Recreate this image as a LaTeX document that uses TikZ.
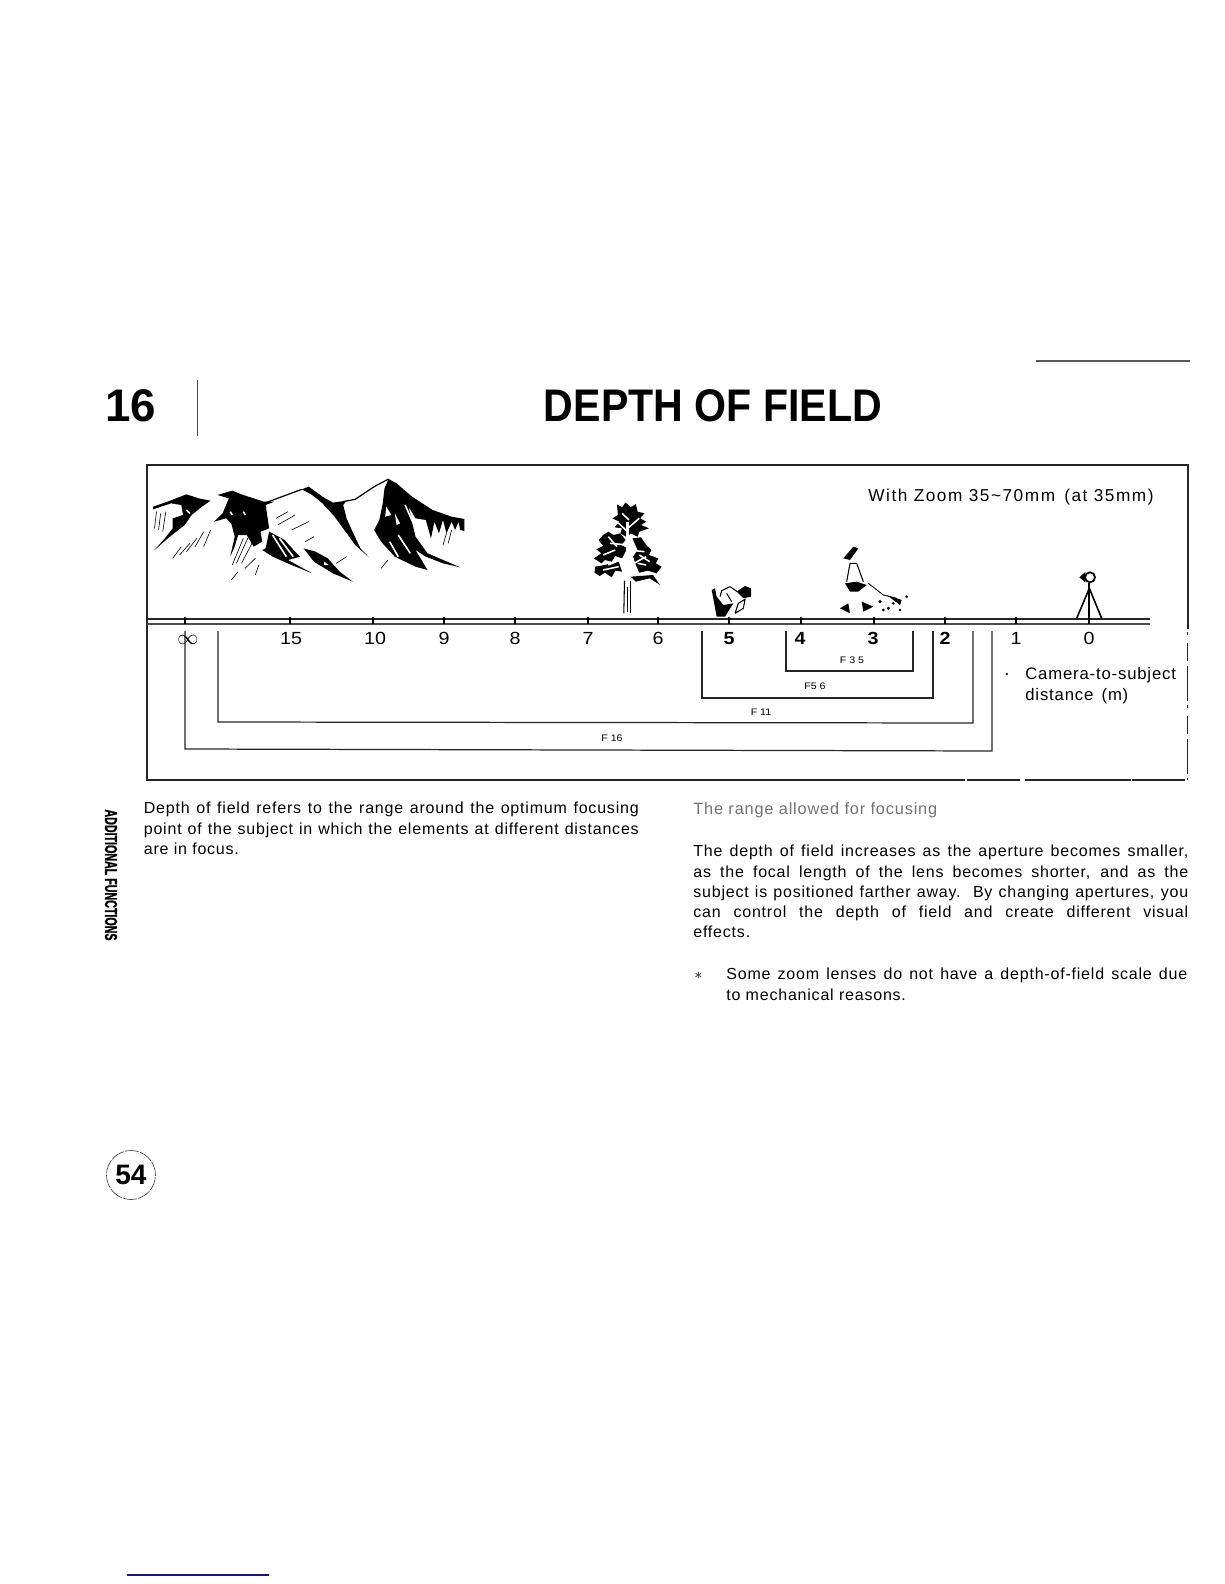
\documentclass[tikz,border=0pt]{standalone}
\usepackage{fontspec}
\setmainfont{Liberation Sans}
\newfontfamily\headfont[FakeStretch=0.9]{Liberation Sans}
\newfontfamily\sidefont[FakeStretch=0.62,FakeBold=1.2]{Liberation Sans}
\newfontfamily\trackfont[LetterSpace=5]{Liberation Sans}
\newfontfamily\widefont[LetterSpace=9]{Liberation Sans}
\newfontfamily\scalefont[FakeStretch=1.12]{Liberation Sans}
\definecolor{rulenavy}{RGB}{20,20,130}
\tikzset{
  headtext/.style={inner sep=0pt,font=\headfont\bfseries\fontsize{26}{30}\selectfont},
  bodytext/.style={inner sep=0pt,anchor=north west,text width=#1,align=justify,
    font=\trackfont\fontsize{9.1}{11.45}\selectfont},
  looktext/.style={inner sep=0pt,anchor=west,font=\trackfont\fontsize{9.3}{11.45}\selectfont},
  scalenum/.style={inner sep=0pt,anchor=base,font=\scalefont\fontsize{10}{11}\selectfont},
  stoplabel/.style={inner sep=0pt,font=\scalefont\fontsize{5.4}{6}\selectfont},
  frameline/.style={line width=0.75pt,black!85},
  groundline/.style={line width=0.9pt,black!85},
  stopline/.style={line width=0.7pt,black!85},
  tickline/.style={line width=1pt,black},
  hatchline/.style={line width=0.35pt,black},
  gapline/.style={line width=0.9pt,white},
}
\begin{document}
\begin{tikzpicture}[x=0.02cm,y=-0.02cm]
\useasboundingbox (0,0) rectangle (1224,1584);
%---------------- page head
\node[inner sep=0pt,anchor=west,font=\bfseries\fontsize{26}{30}\selectfont] (chapnum) at (105,406) {16};
\node[headtext] (pagetitle) at (713,406) {DEPTH OF FIELD};
\draw[line width=0.3pt,black!70] (197,380) -- (197,436);
\draw[line width=0.6pt,black!65] (1036,361) -- (1190,361);
%---------------- frame
\draw[frameline] (147,629) -- (147,465) -- (1188,465) -- (1188,629);
\draw[frameline] (147,629) -- (147,780) -- (860,780);
\draw[line width=0.6pt,black!85,dash pattern=on 60pt off 1pt on 30pt off 3pt] (860,780) -- (1187,780);
\draw[line width=0.5pt,black!85,dash pattern=on 1.5pt off 5pt on 10pt off 3pt on 20pt off 2pt] (1187,632) -- (1187,780);
%---------------- ground
\draw[groundline] (147,619) -- (1150,619);
\draw[line width=1.3pt,black!70] (147,624) -- (1150,624);
\draw[tickline] (185,617) -- (185,624);
\draw[tickline] (290,617) -- (290,624);
\draw[tickline] (373,617) -- (373,624);
\draw[tickline] (444,617) -- (444,624);
\draw[tickline] (515,617) -- (515,624);
\draw[tickline] (588,617) -- (588,624);
\draw[tickline] (658,617) -- (658,624);
\draw[tickline] (729,617) -- (729,624);
\draw[tickline] (801,617) -- (801,624);
\draw[tickline] (874,617) -- (874,624);
\draw[tickline] (945,617) -- (945,624);
\draw[tickline] (1016,617) -- (1016,624);
\draw[tickline] (1089,617) -- (1089,624);
%---------------- scale
\node[scalenum] (distinf) at (188,644) {\fontsize{11.5}{11}\selectfont$\infty$};
\node[scalenum] (distfifteen) at (291,644) {15};
\node[scalenum] (distten) at (375,644) {10};
\node[scalenum] (distnine) at (444,644) {9};
\node[scalenum] (disteight) at (515,644) {8};
\node[scalenum] (distseven) at (588,644) {7};
\node[scalenum] (distsix) at (658,644) {6};
\node[scalenum] (distfive) at (729,644) {\bfseries 5};
\node[scalenum] (distfour) at (800,644) {\bfseries 4};
\node[scalenum] (distthree) at (873,644) {\bfseries 3};
\node[scalenum] (disttwo) at (945,644) {\bfseries 2};
\node[scalenum] (distone) at (1016,644) {1};
\node[scalenum] (distzero) at (1089,644) {0};
%---------------- aperture brackets
\draw[stopline] (185,631) -- (185,749) -- (992,751) -- (992,631);
\draw[stopline] (218,631) -- (218,722) -- (973,723) -- (973,631);
\draw[stopline] (702,631) -- (702,698) -- (933,698) -- (933,631);
\draw[stopline] (786,631) -- (786,671) -- (913,671) -- (913,631);
\node[stoplabel] (stopsixteen) at (612,738) {F 16};
\node[stoplabel] (stopeleven) at (761,712) {F 11};
\node[stoplabel] (stopfive) at (815,686) {F5 6};
\node[stoplabel] (stopthree) at (852,660) {F 3 5};
%---------------- captions in the frame
\node[inner sep=0pt,anchor=west,font=\widefont\fontsize{9.8}{11.45}\selectfont] (zoomnote) at (868,497) {With Zoom 35\textasciitilde 70mm\, (at 35mm)};
\node[inner sep=0pt,font=\fontsize{5}{6}\selectfont] (notemark) at (1007,675) {\textbullet};
\node[looktext] (camnote) at (1025,675) {\fontsize{9.5}{11}\selectfont Camera-to-subject};
\node[looktext] (distnote) at (1025,696) {\fontsize{9.5}{11}\selectfont distance\, (m)};
%---------------- mountains
\begin{scope}[shift={(140,450)},xscale=1/2.904,yscale=1/3]
\fill (38,170) -- (80,155) -- (135,133) -- (170,145) -- (205,152) -- (180,170) -- (150,195) -- (130,225) -- (105,245) -- (75,270) -- (40,302) -- (70,268) -- (95,235) -- (95,205) -- (125,195) -- (120,165) -- (90,160) -- (38,178) -- cycle;
\fill (225,135) -- (268,122) -- (300,135) -- (360,155) -- (390,155) -- (365,165) -- (370,200) -- (375,235) -- (350,245) -- (355,275) -- (330,290) -- (310,255) -- (285,255) -- (275,290) -- (262,320) -- (275,260) -- (265,220) -- (250,205) -- (215,215) -- (240,190) -- (258,145) -- cycle;
\fill (470,118) -- (490,110) -- (530,140) -- (560,158) -- (600,152) -- (590,165) -- (600,205) -- (615,240) -- (640,295) -- (665,322) -- (625,285) -- (590,235) -- (565,200) -- (530,160) -- (500,135) -- cycle;
\fill (375,245) -- (420,270) -- (455,310) -- (465,320) -- (430,330) -- (500,370) -- (440,345) -- (385,320) -- (355,300) -- (365,295) -- cycle;
\fill (475,295) -- (510,305) -- (545,325) -- (580,365) -- (618,395) -- (560,370) -- (505,335) -- cycle;
\fill (710,115) -- (722,87) -- (745,100) -- (790,140) -- (850,180) -- (905,200) -- (942,207) -- (942,243) -- (930,240) -- (925,215) -- (915,240) -- (905,215) -- (890,250) -- (880,210) -- (868,250) -- (855,215) -- (845,265) -- (830,210) -- (800,205) -- (780,170) -- (790,215) -- (800,260) -- (835,310) -- (930,352) -- (880,340) -- (830,320) -- (800,300) -- (835,360) -- (800,350) -- (740,320) -- (700,275) -- (680,240) -- (695,210) -- (705,160) -- cycle;
%--- holes
\fill[white] (715,170) -- (730,195) -- (712,200) -- cycle;
\fill[white] (740,190) -- (755,220) -- (745,225) -- cycle;
\fill[white] (535,335) -- (548,345) -- (535,345) -- cycle;
\draw[gapline] (725,275) -- (750,320);
\draw[gapline] (750,255) -- (785,310);
\draw[gapline] (770,165) -- (800,235);
\draw[gapline] (385,255) -- (425,320);
\draw[gapline] (405,265) -- (445,320);
\draw[gapline] (262,185) -- (268,195);
\draw[gapline] (300,185) -- (306,195);
\draw[gapline] (135,180) -- (145,190);
%--- thin ridges
\draw[line width=0.7pt] (360,160) -- (470,118);
\draw[line width=0.7pt] (590,155) -- (625,148) -- (680,110) -- (722,87);
%--- hatching
\draw[hatchline] (48,185) -- (42,235);
\draw[hatchline] (60,190) -- (54,240);
\draw[hatchline] (75,185) -- (66,245);
\draw[hatchline] (95,325) -- (120,290);
\draw[hatchline] (115,315) -- (145,280);
\draw[hatchline] (135,305) -- (165,265);
\draw[hatchline] (160,290) -- (185,245);
\draw[hatchline] (185,290) -- (205,240);
\draw[hatchline] (268,345) -- (300,265);
\draw[hatchline] (280,340) -- (315,260);
\draw[hatchline] (295,340) -- (330,270);
\draw[hatchline] (265,390) -- (285,365);
\draw[hatchline] (305,355) -- (335,325);
\draw[hatchline] (335,375) -- (345,345);
\draw[hatchline] (395,205) -- (430,185);
\draw[hatchline] (400,225) -- (450,195);
\draw[hatchline] (440,240) -- (490,215);
\draw[hatchline] (480,275) -- (505,260);
\draw[hatchline] (570,340) -- (600,320);
\draw[hatchline] (700,355) -- (720,330);
\draw[hatchline] (880,285) -- (890,250);
\draw[hatchline] (895,280) -- (905,240);
%---------------- tree
\fill (1385,163) -- (1400,172) -- (1410,157) -- (1425,172) -- (1440,162) -- (1445,185) -- (1465,190) -- (1452,205) -- (1470,215) -- (1455,225) -- (1478,235) -- (1450,245) -- (1445,260) -- (1425,250) -- (1415,262) -- (1395,250) -- (1400,235) -- (1378,232) -- (1392,215) -- (1372,205) -- (1388,195) -- cycle;
\fill (1345,255) -- (1360,245) -- (1375,255) -- (1395,250) -- (1410,270) -- (1398,285) -- (1415,295) -- (1400,325) -- (1380,318) -- (1370,335) -- (1350,330) -- (1340,340) -- (1318,325) -- (1340,310) -- (1325,298) -- (1345,288) -- (1332,270) -- cycle;
\fill (1430,265) -- (1455,262) -- (1470,285) -- (1485,300) -- (1478,315) -- (1505,325) -- (1498,340) -- (1515,350) -- (1500,370) -- (1475,362) -- (1450,368) -- (1440,345) -- (1432,320) -- (1445,300) -- cycle;
\fill (1322,350) -- (1350,345) -- (1390,335) -- (1400,365) -- (1380,362) -- (1370,382) -- (1350,368) -- (1335,378) -- (1320,368) -- cycle;
\fill (1425,380) -- (1490,375) -- (1510,405) -- (1480,385) -- (1440,395) -- cycle;
\draw[gapline,line width=1.6pt] (1416,215) -- (1416,400);
\draw[gapline] (1416,320) -- (1360,345);
\draw[gapline] (1416,285) -- (1365,280);
\draw[gapline] (1416,350) -- (1470,320);
\draw[gapline] (1416,300) -- (1465,305);
\draw[gapline] (1416,245) -- (1385,215);
\draw[gapline] (1416,235) -- (1450,205);
\draw[gapline] (1380,300) -- (1345,315);
\draw[gapline] (1470,345) -- (1445,340);
\draw[gapline] (1400,190) -- (1420,210);
\draw[gapline] (1360,260) -- (1385,290);
\draw[gapline] (1480,335) -- (1450,315);
\draw[gapline] (1345,360) -- (1390,350);
\draw[line width=0.6pt] (1407,392) -- (1405,490);
\draw[line width=0.6pt] (1424,392) -- (1424,490);
\draw[hatchline] (1414,410) -- (1414,485);
\end{scope}
%---------------- people and camera
\begin{scope}[shift={(680,450)},scale=1/3]
%--- crouching figure
\fill (95,420) -- (110,500) -- (135,500) -- (160,460) -- (130,465) -- (110,440) -- (105,415) -- cycle;
\fill (170,425) -- (195,408) -- (213,415) -- (213,440) -- (190,445) -- cycle;
\draw[line width=0.6pt] (120,440) -- (125,422) -- (150,410) -- (172,425);
\draw[line width=0.6pt] (165,490) -- (175,460) -- (195,448) -- (190,475) -- (165,490);
\draw[line width=0.6pt] (140,430) -- (155,455);
%--- standing figure
\fill (490,325) -- (520,290) -- (535,295) -- (510,330) -- cycle;
\draw[line width=0.6pt] (510,340) -- (530,340) -- (550,395);
\draw[line width=0.6pt] (510,340) -- (500,395);
\fill (495,400) -- (530,395) -- (560,405) -- (535,425) -- (510,425) -- cycle;
\fill (480,475) -- (505,460) -- (510,490) -- cycle;
\fill (545,455) -- (580,470) -- (550,485) -- cycle;
\draw[line width=0.5pt] (565,400) -- (610,435) -- (650,445);
\fill (620,435) -- (665,450) -- (660,465) -- cycle;
\fill (600,455) circle (3pt);
\fill (625,475) circle (3pt);
\fill (640,460) circle (2.5pt);
\fill (660,480) circle (2.5pt);
\fill (610,480) circle (2.5pt);
\fill (680,440) circle (2.5pt);
%--- camera on tripod
\draw[line width=1pt] (1230,382) circle (0.3cm);
\fill (1198,382) -- (1216,366) -- (1216,397) -- cycle;
\draw[line width=0.9pt] (1228,415) -- (1190,505);
\draw[line width=0.9pt] (1228,415) -- (1265,505);
\draw[line width=1pt] (1228,400) -- (1228,512);
\end{scope}
%---------------- text columns
\node[bodytext=9.9cm] (leftpara) at (143.5,802) {Depth of field refers to the range around the optimum focusing\linebreak point of the subject in which the elements at different distances\linebreak are in focus.};
\node[looktext,black!55] (rangenote) at (693,810) {The range allowed for focusing};
\node[bodytext=9.9cm] (rightpara) at (693,845) {The depth of field increases as the aperture becomes smaller,\linebreak as the focal length of the lens becomes shorter, and as the\linebreak subject is positioned farther away.\, By changing apertures, you\linebreak can control the depth of field and create different visual\linebreak effects.};
\node[looktext] (starmark) at (694,976) {$*$};
\node[bodytext=9.22cm] (starpara) at (726,968) {Some zoom lenses do not have a depth-of-field scale due\linebreak to mechanical reasons.};
%---------------- page foot
\node[inner sep=0pt,rotate=-90,font=\sidefont\bfseries\fontsize{9.8}{10}\selectfont] (sidetag) at (111,875) {ADDITIONAL FUNCTIONS};
\node[circle,draw=black!70,line width=0.4pt,dash pattern=on 8pt off 0.7pt,minimum size=0.98cm,inner sep=0pt,font=\bfseries\fontsize{16}{18}\selectfont] (pagenum) at (131,1175) {54};
\draw[line width=0.9pt,rulenavy] (127,1575) -- (269,1575);
\end{tikzpicture}
\end{document}
